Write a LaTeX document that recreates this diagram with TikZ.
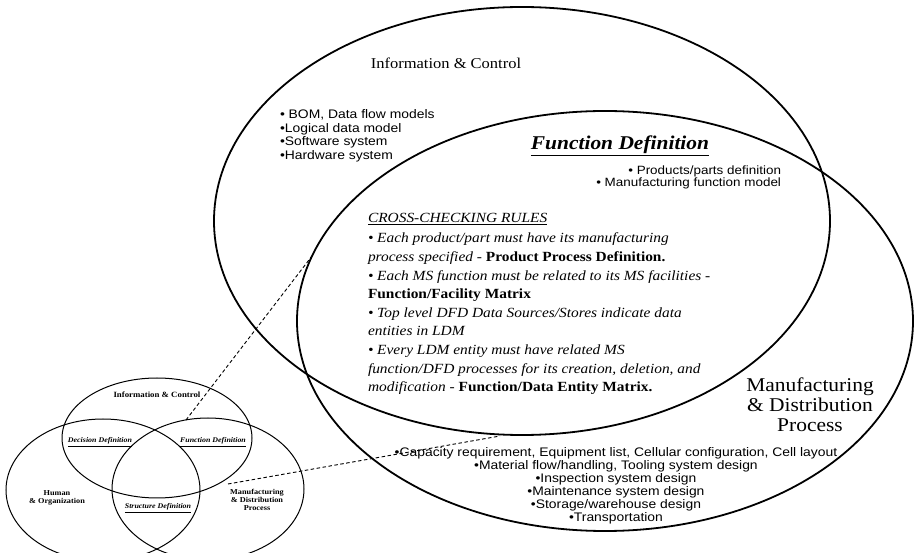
\documentclass[tikz,border=0pt]{standalone}
\usepackage{fontspec}
\setmainfont{Liberation Serif}
\newfontfamily\hel{Liberation Sans}[FakeStretch=1.12]
\newfontfamily\tms{Liberation Serif}[FakeStretch=1.1]
\usetikzlibrary{shapes.geometric}

\begin{document}
\begin{tikzpicture}[x=1pt,y=-1pt,
  view/.style={draw, ellipse, inner sep=0pt, outer sep=0pt, line width=1.8pt},
  miniview/.style={draw, ellipse, inner sep=0pt, outer sep=0pt, line width=1pt},
  link/.style={line width=0.9pt, dash pattern=on 3.5pt off 2.5pt},
  txt/.style={inner sep=0pt, outer sep=0pt},
  minilabel/.style={txt, align=center, font=\tms\bfseries\fontsize{7.5}{8}\selectfont},
  minititle/.style={txt, font=\tms\itshape\bfseries\fontsize{7.2}{8}\selectfont}]
\useasboundingbox (0,0) rectangle (914,553);
\clip (0,0) rectangle (914,553);

% the two main views
\node[view, minimum width=616pt, minimum height=428pt] (ic) at (522,221) {};
\node[view, minimum width=616pt, minimum height=420pt] (md) at (605,321) {};

% small overview of the three views
\node[miniview, minimum width=190pt, minimum height=120pt] (sic) at (157,438) {};
\node[miniview, minimum width=194pt, minimum height=142pt] (sho) at (103,490) {};
\node[miniview, minimum width=192pt, minimum height=142pt] (smd) at (208,489) {};

\node[minilabel, font=\tms\bfseries\fontsize{8}{9}\selectfont] (sicl) at (157,395) {Information \& Control};
\node[minititle] (sdd) at (100,442) {\underline{Decision Definition}};
\node[minititle] (sfd) at (213,442) {\underline{Function Definition}};
\node[minititle] (ssd) at (158,508) {\underline{Structure Definition}};
\node[minilabel] (shol) at (57,498) {Human\\\& Organization};
\node[minilabel] (smdl) at (257,500) {Manufacturing\\\& Distribution\\Process};

% dashed links from the small Function Definition lens to the large one
\coordinate (fa) at (186,420);
\coordinate (fb) at (312,256);
\coordinate (fc) at (228,484);
\coordinate (fd) at (500,436);
\draw[link] (fa) -- (fb);
\draw[link] (fc) -- (fd);

% Information & Control
\node[txt, font=\tms\fontsize{15}{17}\selectfont] (ict) at (446,63) {Information \& Control};
\node[txt, anchor=north west, align=left, font=\hel\fontsize{12.4}{13.4}\selectfont] (icl) at (280,110)
  {• BOM, Data flow models\\•Logical data model\\•Software system\\•Hardware system};

% Function Definition
\node[txt, anchor=base, font=\tms\bfseries\itshape\fontsize{19.5}{21}\selectfont] (fdt) at (620,150) {\underline{Function Definition}};
\node[txt, anchor=north east, align=right, font=\hel\fontsize{12}{11.8}\selectfont] (fdl) at (781,166)
  {• Products/parts definition\\• Manufacturing function model};

\node[txt, anchor=north west, align=left, font=\tms\itshape\fontsize{14}{18.6}\selectfont] (rules) at (368,213)
  {\underline{CROSS-CHECKING RULES}\\[2pt]
   • Each product/part must have its manufacturing\\
   process specified - \textup{\bfseries Product Process Definition.}\\
   • Each MS function must be related to its MS facilities -\\
   \textup{\bfseries Function/Facility Matrix}\\
   • Top level DFD Data Sources/Stores indicate data\\
   entities in LDM\\
   • Every LDM entity must have related MS\\
   function/DFD processes for its creation, deletion, and\\
   modification - \textup{\bfseries Function/Data Entity Matrix.}};

% Manufacturing & Distribution Process
\node[txt, align=center, font=\tms\fontsize{19.5}{20}\selectfont] (mdt) at (810,405)
  {Manufacturing\\\& Distribution\\Process};
\node[txt, anchor=north, align=center, font=\hel\fontsize{12.4}{13}\selectfont] (mdl) at (616,448)
  {•Capacity requirement, Equipment list, Cellular configuration, Cell layout\\
   •Material flow/handling, Tooling system design\\
   •Inspection system design\\
   •Maintenance system design\\
   •Storage/warehouse design\\
   •Transportation};
\end{tikzpicture}
\end{document}
